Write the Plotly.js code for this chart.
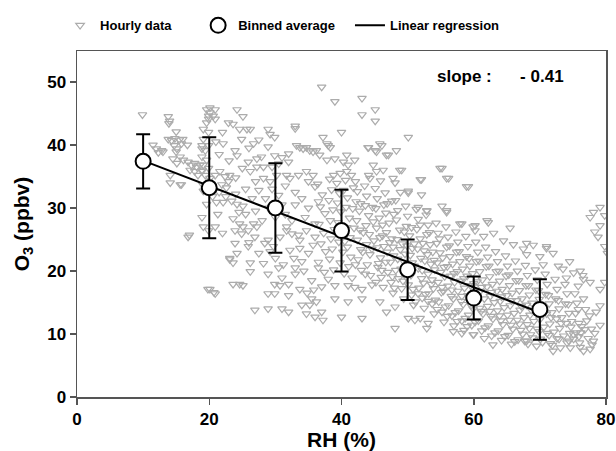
<!DOCTYPE html>
<html>
<head>
<meta charset="utf-8">
<script src="https://cdn.plot.ly/plotly-3.0.1.min.js"></script>
<style>html,body{margin:0;padding:0;background:#fff;}#chart{width:616px;height:451px;}</style>
</head>
<body>
<div id="chart"></div>
<script>
// Hourly data: [RH (%), O3 (ppbv)]
const hourlyPoints = [
[9.9,44.8],[13.8,44.5],[14,43.8],[13.9,43.4],[15,42.1],[11.5,40],[12,39.4],[12.3,38.8],[12.8,39.1],[13,38.9],[13.8,40.9],[14.3,40.7],[14.8,41],[15.5,40.8],[16,40.9],[16.7,40],[14.7,39.9],[15.1,39.4],[15,38.9],[15.8,40.2],[14.5,37.8],[15.6,38.1],[16.1,37.6],[15.1,37.1],[16.8,37.3],[17.3,36.8],[17.8,37.1],[18.1,36.5],[18.6,36.8],[18.9,36],[17.1,36],[17.8,35.8],[18.3,35.2],[14.1,35.2],[14.1,34],[15.6,33.7],[15.8,33.7],[16.8,25.4],[17,25.7],[19,33.7],[19.1,32.7],[18.9,28.5],[19.1,27],[19.9,26.4],[19.6,45.6],[19.9,44.6],[19.6,43.5],[19.1,42.5],[19.9,42],[19.1,40.9],[19.9,39.9],[18.9,39.4],[19.8,17.1],[20.7,16.6],
[20.1,45.9],[20.9,45.6],[20.1,45.1],[20.6,44.6],[19.9,44.1],[20.9,44.1],[24.2,45.6],[25.1,44.5],[22.9,43.5],[23.6,43.3],[24.6,42.5],[25.7,42.5],[26.2,42.5],[24.9,40.9],[28.9,42.5],[29.2,41.7],[29.9,41.2],[33,43],[33,42.6],
[22.1,40.2],[23.9,39.1],[24.2,38.3],[26.7,40.2],[27.9,38.1],[27.2,37.8],[25.9,37.3],[28.9,39.7],[29.9,38.3],[32,38.6],[32,37.3],[33.2,39.9],[33.7,39.6],[34.2,39.4],[34.7,39.6],[35.2,39.1],[35.7,38.9],[36.2,39.1],
[26.2,35.8],[27.2,36.5],[28.2,36.5],[27,34.2],[28.2,34.7],[29.2,34.2],[30.2,35.2],[31.7,35.2],[32.2,34.7],[33.5,35.2],[34.7,35.8],[35.7,35.2],[35,34.2],[36,33.4],
[18.9,39.9],[19.4,39.1],[18.9,38.1],[19.6,37.6],[19.1,36.8],[19.9,36.3],[19.4,35.2],[20.1,34.7],[18.9,35.8],[20.9,35.2],[21.6,35.8],[22.4,35],[22.9,34.2],[23.1,35.2],[21.9,33.7],[22.6,33.2],
[21.1,30.9],[22.1,30.9],[23.4,31.1],[24.2,30.6],[25.1,30.3],[19.6,30.6],[20.9,27],[23.6,28.3],[24.6,27.5],[25.1,27],[23.9,26.4],[24.9,25.9],[26.7,27.5],[27.2,27],[25.9,26.4],[26.9,25.4],
[23.9,24.4],[25.9,23.9],[24.2,22.8],[23.1,22],[23.6,21.3],[28.4,24.4],[28.9,24.9],[29.7,23.9],[29.2,23.1],[30.7,25.4],[31.7,26.4],[32.5,25.9],[33.5,25.7],[33.7,24.9],[34.7,26.4],[36,25.4],[35.7,24.1],[33.7,23.6],[32.2,23.3],[31.7,27],
[26.2,21.3],[26.2,19.9],[24.6,17.9],[23.1,21.8],[28.9,19.5],[31,18.9],[29.9,17.9],[30.7,17.7],[32,17.9],[33,19.5],[33.7,17.1],[35.5,15.6],
[23.6,17.9],[25.1,17.7],[20.1,17.1],[20.9,16.4],[28.9,16.4],[29.9,16.4],[32,16.1],[34,14.6],[35.2,14.6],[26.9,13.8],[28.9,14],[31,14],[32,13.5],[34.7,13.2],[36,12.7],
[21.5,32.5],[22.5,31.8],[24,32.2],[25.5,33],[26.5,31.5],[27.5,32.8],[28.5,31.5],[29.5,33],[30.5,32],[31,30.5],[29,30],[27,29.5],[25.5,29],[28,28],[30,28.5],[31.5,29],[33,30.5],[34,31.5],[35,30],[36.5,31],[34.5,28.5],[32.5,28],[36,27.5],[33,32.5],[31.5,33.5],[29.5,36.5],[30.5,37],[31,38],[27.5,40.8],[26,39.5],[23,37.5],[21.5,38.5],[22,42],[21,40.5],[25,36.3],[24,34.8],[20.5,31.8],[21.3,29],[22,26],[24.5,29.3],[26,24.5],[27.5,22.8],[28.2,21.2],[30,22],[31.2,21],[34,21.5],[35,22.8],[36.5,20.5],[35.5,18.5],[37,17.5],[33,20.5],
[30.5,20.5],[32.8,22],[34.3,20],[35.8,17],[34.8,16.5],[36.2,15.1],
[37,49.2],[39,46.9],[43.1,47.4],[43.1,44.8],[45.1,45.6],[45.1,43.8],[40,42],[50.1,41.2],
[37.2,41.2],[37.8,40.2],[38.3,39.6],[44,39.6],[45.1,39.1],[46.1,39.9],[46.8,38.4],[48.8,36],[51.9,34.5],
[36.7,38.4],[37.8,37.6],[39,37.8],[40.3,37.3],[41,36.8],[42,37.6],[38.8,35.2],[39.8,35.5],[40.8,35.8],[41.5,35.2],[44.1,35.2],[45.3,35.8],[44.3,34.7],
[48.1,34],[50.1,32.4],[52.1,32.1],[52.9,29.5],[47.6,31.1],
[45.8,40.2],[44.1,39.6],[45.3,38.9],[47.1,38.4],[48.3,39.1],[38,39.9],[40.8,38.4],[44.8,36.8],[46.3,36],[47.8,34.7],
[49.1,36],[54.9,36.3],[55.9,34.7],[58.9,33.4],[52.1,34.5],[50.1,32.7],[62,28],[57.9,27.5],[59.9,27],[55.2,30.3],[55.9,29.6],[52.9,29.6],[51.6,30.1],
[39,15.6],[40,12.7],[41,15.1],[43.1,15.6],[43.1,12.5],[45.8,15.1],[46.8,13.5],[48.1,14.3],[48.1,10.9],[50.1,12.5],[51.1,12.2],[51.9,12.5],[52.9,10.9],[53.1,11.7],
[37,13.5],[37.2,12.2],[38,18.7],[39,17.7],[41,17.7],[42,17.4],[43.1,17.1],
[36.4,33.8],[37.1,32.1],[36.8,30.2],[37.5,29.1],[36.6,27.4],[37.3,26],[36.9,24.3],[37.6,23.1],[36.5,21.4],[37.4,19.8],[38.2,34.6],[38.5,32.9],[38.1,31.2],[38.7,29.7],[38.3,28],[38.9,26.6],[38.4,25.1],[38.6,23.5],[38.2,21.9],[38.8,20.2],
[39.3,33.9],[39.7,32.3],[39.4,30.8],[39.9,29.4],[39.5,27.7],[40.1,26.3],[39.6,24.6],[40.2,23],[39.8,21.3],[40.4,19.6],[40.6,34.4],[40.9,31.6],[40.7,30.1],[41.2,28.4],[40.8,26.9],[41.3,25.3],[40.9,23.8],[41.4,22.2],[41.1,20.7],[41.6,18.9],
[42.1,34.2],[42.4,32.6],[42.2,31],[42.7,29.5],[42.3,28],[42.8,26.5],[42.4,24.9],[42.9,23.4],[42.5,21.8],[43,20.1],[43.5,33.5],[43.8,31.9],[43.6,30.4],[44.1,28.8],[43.7,27.2],[44.2,25.8],[43.8,24.2],[44.3,22.6],[43.9,21],[44.4,19.3],[44.6,17.8],
[45.1,33.1],[45.4,31.5],[45.2,29.9],[45.7,28.4],[45.3,26.8],[45.8,25.3],[45.4,23.7],[45.9,22.1],[45.5,20.6],[46,19],[46.3,17.4],[46.6,32.4],[46.9,30.7],[46.7,29.2],[47.2,27.6],[46.8,26.1],[47.3,24.5],[46.9,23],[47.4,21.4],[47,19.8],[47.5,18.2],[47.8,16.5],
[48.2,31.2],[48.5,29.6],[48.3,28.1],[48.8,26.5],[48.4,25],[48.9,23.4],[48.5,21.9],[49,20.3],[48.6,18.8],[49.1,17.2],[49.4,15.6],[49.7,30.3],[50,28.7],[49.8,27.1],[50.3,25.6],[49.9,24],[50.4,22.5],[50,20.9],[50.5,19.3],[50.1,17.8],[50.6,16.2],[50.9,14.6],
[51.3,29.8],[51.6,28.2],[51.4,26.6],[51.9,25.1],[51.5,23.5],[52,22],[51.6,20.4],[52.1,18.8],[51.7,17.3],[52.2,15.7],[52.5,14.1],[52.8,28.9],[53.1,27.3],[52.9,25.8],[53.4,24.2],[53,22.6],[53.5,21.1],[53.1,19.5],[53.6,17.9],[53.2,16.4],[53.7,14.8],[54,13.2],
[54.3,27.6],[54.6,26],[54.4,24.4],[54.9,22.9],[54.5,21.3],[55,19.8],[54.6,18.2],[55.1,16.6],[54.7,15.1],[55.2,13.5],[55.5,11.9],[55.8,27],[56.1,25.4],[55.9,23.8],[56.4,22.3],[56,20.7],[56.5,19.2],[56.1,17.6],[56.6,16],[56.2,14.5],[56.7,12.9],[57,11.3],
[57.3,26.2],[57.6,24.6],[57.4,23],[57.9,21.5],[57.5,19.9],[58,18.4],[57.6,16.8],[58.1,15.2],[57.7,13.7],[58.2,12.1],[58.5,10.6],[58.8,25.5],[59.1,23.9],[58.9,22.3],[59.4,20.8],[59,19.2],[59.5,17.7],[59.1,16.1],[59.6,14.5],[59.2,13],[59.7,11.4],[60,9.9],
[60.3,24.6],[60.6,23],[60.4,21.5],[60.9,19.9],[60.5,18.3],[61,16.8],[60.6,15.2],[61.1,13.6],[60.7,12.1],[61.2,10.5],[61.6,9.3],[61.8,23.8],[62.1,22.2],[61.9,20.7],[62.4,19.1],[62,17.5],[62.5,16],[62.1,14.4],[62.6,12.8],[62.2,11.3],[62.7,9.7],
[63.3,23.1],[63.6,21.5],[63.4,19.9],[63.9,18.4],[63.5,16.8],[64,15.2],[63.6,13.7],[64.1,12.1],[63.7,10.5],[64.2,9],[64.8,22.4],[65.1,20.8],[64.9,19.2],[65.4,17.7],[65,16.1],[65.5,14.5],[65.1,13],[65.6,11.4],[65.2,9.8],[65.7,8.4],
[66.3,21.6],[66.6,20],[66.4,18.5],[66.9,16.9],[66.5,15.3],[67,13.8],[66.6,12.2],[67.1,10.6],[66.7,9.1],[67.8,20.9],[68.1,19.3],[67.9,17.7],[68.4,16.2],[68,14.6],[68.5,13],[68.1,11.5],[68.6,9.9],[68.2,8.4],
[69.3,20.2],[69.6,18.6],[69.4,17],[69.9,15.5],[69.5,13.9],[70,12.3],[69.6,10.8],[70.1,9.2],[70.8,19.5],[71.1,17.9],[70.9,16.3],[71.4,14.8],[71,13.2],[71.5,11.6],[71.1,10.1],[71.6,8.5],
[72.3,18.7],[72.6,17.1],[72.4,15.6],[72.9,14],[72.5,12.4],[73,10.9],[72.6,9.3],[73.1,7.8],[73.8,17.9],[74.1,16.4],[73.9,14.8],[74.4,13.3],[74,11.7],[74.5,10.1],[74.1,8.6],
[75.3,16.4],[75.6,14.9],[75.4,13.3],[75.9,11.7],[75.5,10.2],[76,8.6],[76.6,15.6],[76.9,13.9],[77.1,12.1],[76.8,10.7],[77.3,9.3],
[44.9,24.8],[45.6,21.2],[46.2,27.3],[46.4,23.9],[46.1,20.1],[47.6,25.1],[47.9,22.4],[47.7,19.1],[48,17.3],[49.2,24.3],[49.5,21.4],[49.3,18.4],[50.7,23.6],[51,20.8],[50.8,17.1],[51.2,15.1],[52.3,24.4],[52.6,21.6],[52.4,18.1],[52.7,16.3],[53.8,23],[54.1,20.2],[53.9,17.2],[54.2,15.4],[55.3,22.1],[55.6,19.1],[55.4,16.8],[55.7,14.3],[56.8,21.1],[57.1,18.2],[56.9,15.6],[57.2,13.4],[58.3,20.3],[58.6,17.3],[58.4,14.7],[58.7,12.5],[59.8,19.6],[60.1,16.7],[59.9,14],[60.2,11.9],[61.3,18.6],[61.6,15.6],[61.4,13.2],[61.7,11],[62.8,17.9],[63.1,15],[62.9,12.4],[63.2,10.2],[64.3,17.1],[64.6,14.2],[64.4,11.5],[64.7,9.6],[65.8,16.5],[66.1,13.3],[65.9,10.8],[66.2,8.8],[67.3,15.6],[67.6,12.6],[67.4,10],[67.7,8.9],[68.8,14.9],[69.1,12],[68.9,9.4],[70.3,14.2],[70.6,11.1],[70.4,8.7],[71.8,13.4],[72.1,10.3],[71.9,8.2],[73.3,12.6],[73.6,9.7],[74.8,12],[75.1,9.2],[76.3,11.2],[76.1,7.9],[77.8,10.8],[77.9,8.3],
[40.3,32.8],[41.8,33.2],[41.7,29.9],[42.9,30.7],[43.3,26.1],[44.7,30.1],[44.8,27.8],[45.9,34.3],[46.4,30.5],[47.9,29],[48.9,32.5],[49.5,26.2],[40.5,24.7],[41.9,26.8],[43.2,23],[44.6,23.5],[46.2,25.6],[47.8,23.8],[49.6,22.7],[42.1,21],[43.6,19.5],[45.2,18.2],[46.7,21.4],[48.2,20.1],[49.8,19],
[50.6,26.9],[51.9,27.3],[53.3,26.1],[54.8,25.1],[56.3,24],[57.8,23.1],[59.3,22],[50.7,21.3],[52.2,20.1],[53.7,18.6],[55.2,17.4],[56.7,17],[58.2,16],[59.7,15.3],[51.6,16.4],[53.1,15.2],[54.5,13.9],[56,12.8],[57.5,12],[59,11.2],[51,24.3],[52.5,23.2],[54,21.7],[55.5,20.6],[57,19.6],[58.5,18.8],[60,18],
[60.8,21.6],[62.3,20.8],[63.8,20],[65.3,19.4],[66.8,18.5],[68.3,17.7],[69.8,16.9],[71.3,16.1],[72.8,15.3],[74.3,14.7],[75.8,13.9],[60.9,14.1],[62.4,13.6],[63.9,12.9],[65.4,12.2],[66.9,11.6],[68.4,10.9],[69.9,10.4],[71.4,9.8],[72.9,9.2],[74.4,8.9],[75.9,9.6],[61.2,17.4],[62.7,16.6],[64.2,15.9],[65.7,15.3],[67.2,14.4],[68.7,13.8],[70.2,13.2],[71.7,12.6],[73.2,11.7],[74.7,11.1],[76.2,10.2],[77.5,12.9],[78.3,10.1],[78.5,13.5],
[55.2,36.3],[56.2,34.7],[59.2,33.4],[55.9,29.3],[58.2,27.5],[60.2,27.2],[60.2,26.4],[62.2,27.7],
[68,24.4],[69,24.1],[71,23.9],[70,22.3],[68,22.6],
[56.9,10.4],[58.2,10.1],[59.9,9.9],[62.9,8.3],[68,8.9],[69.5,8.1],
[79.1,30.1],[78.1,29.3],[77.6,28.5],[79.8,28.8],[79.1,27.2],[78.3,26.2],[78.8,25.4],[79.8,23.9],[80.2,22.8],
[71,23.6],[72,22.8],[72.8,20.8],[74,18.9],[75.1,19.7],[76.1,20],[76.6,18.7],[77.6,18.2],[79.1,17.1],[79.8,18.2],[79.1,14.5],
[72,7.3],[74.6,7.8],[76.6,7.3],[77.6,7.6],[78.1,8.9],[75.1,9.9],[79.1,11.4],
[61.5,25.5],[63,26],[64.5,24.8],[66,24.2],[67.5,23.5],[65.5,26.8],[70.5,21],[73.5,20.3],[74.5,21.5],[76.5,19.3],[75.8,17.6]
];

// Binned averages (mean ± std)
const binRH = [10, 20, 30, 40, 50, 60, 70];
const binO3 = [37.4, 33.2, 30.0, 26.4, 20.2, 15.7, 13.9];
const binErr = [4.3, 8.0, 7.1, 6.5, 4.8, 3.4, 4.8];

// Linear regression line endpoints
const regRH = [10, 70];
const regO3 = [37.5, 13.4];

const slopeText = 'slope :\u00a0\u00a0\u00a0\u00a0\u00a0 - 0.41';

const hourlyRH = hourlyPoints.map(p => p[0]);
const hourlyO3 = hourlyPoints.map(p => p[1]);

const FONT = 'Liberation Sans, Arial, sans-serif';

const traces = [
  {
    x: hourlyRH, y: hourlyO3, type: 'scatter', mode: 'markers', name: 'Hourly data',
    marker: {symbol: 'triangle-down-open', size: 7.5, color: 'rgb(172,172,172)', line: {width: 1.2}},
    legend: 'legend', cliponaxis: true
  },
  {
    x: regRH, y: regO3, type: 'scatter', mode: 'lines', name: 'Linear regression',
    line: {color: '#000', width: 2}, legend: 'legend3'
  },
  {
    x: binRH, y: binO3, type: 'scatter', mode: 'markers', name: 'Binned average',
    marker: {symbol: 'circle', size: 15, color: '#fff', line: {color: '#000', width: 2}},
    error_y: {type: 'data', array: binErr, visible: true, color: '#000', thickness: 2, width: 7},
    legend: 'legend2'
  }
];

const legendBase = {
  orientation: 'h', yanchor: 'middle', y: 1.074, xanchor: 'left',
  bgcolor: 'rgba(0,0,0,0)', borderwidth: 0,
  font: {family: FONT, size: 13, color: '#000', weight: 'bold'}
};

const layout = {
  width: 616, height: 451,
  margin: {l: 77, r: 10, t: 44, b: 54},
  paper_bgcolor: '#fff', plot_bgcolor: '#fff',
  font: {family: FONT, color: '#000'},
  showlegend: true,
  legend: Object.assign({}, legendBase, {x: -0.032}),
  legend2: Object.assign({}, legendBase, {x: 0.229}),
  legend3: Object.assign({}, legendBase, {x: 0.516}),
  xaxis: {
    range: [0, 80], dtick: 20, tick0: 0,
    showgrid: false, zeroline: false,
    showline: true, linecolor: '#555', linewidth: 1.5, mirror: true,
    ticks: 'outside', ticklen: 6, tickcolor: '#555', tickwidth: 1.5,
    tickfont: {family: FONT, size: 17, color: '#000', weight: 'bold'},
    title: {text: 'RH (%)', font: {family: FONT, size: 21, color: '#000', weight: 'bold'}, standoff: 8}
  },
  yaxis: {
    range: [0, 54.9], dtick: 10, tick0: 0,
    showgrid: false, zeroline: false,
    showline: true, linecolor: '#555', linewidth: 1.5, mirror: true,
    ticks: 'outside', ticklen: 6, tickcolor: '#555', tickwidth: 1.5,
    tickfont: {family: FONT, size: 17, color: '#000', weight: 'bold'},
    title: {text: 'O<sub>3</sub> (ppbv)', font: {family: FONT, size: 21, color: '#000', weight: 'bold'}, standoff: 12}
  },
  annotations: [{
    xref: 'paper', yref: 'paper', x: 0.677, y: 0.926, xanchor: 'left', yanchor: 'middle',
    text: slopeText, showarrow: false,
    font: {family: FONT, size: 17, color: '#000', weight: 'bold'}
  }]
};

Plotly.newPlot('chart', traces, layout, {staticPlot: true, displayModeBar: false});
</script>
</body>
</html>
